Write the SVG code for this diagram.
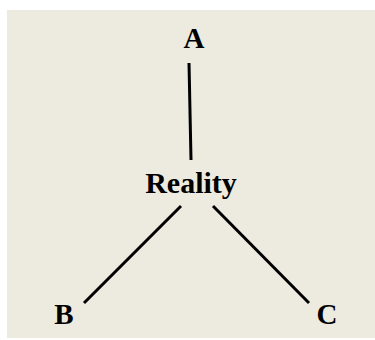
<svg xmlns="http://www.w3.org/2000/svg" width="375" height="340" viewBox="0 0 375 340">
<style>
.lbl{font-family:"Liberation Serif","Times New Roman",serif;font-weight:bold;fill:#000;text-anchor:middle}
.edge{stroke:#000;stroke-width:3;fill:none}
</style>
<rect x="0" y="0" width="375" height="340" fill="#ffffff"/>
<rect x="7" y="10" width="368" height="328" fill="#EDEAE0"/>
<g id="connectors">
<line class="edge" x1="189" y1="63" x2="191" y2="160"/>
<line class="edge" x1="181" y1="206" x2="84" y2="303"/>
<line class="edge" x1="213" y1="206" x2="309" y2="303"/>
</g>
<g id="node-A"><text class="lbl" x="194" y="48" font-size="29">A</text></g>
<g id="node-Reality"><text class="lbl" x="191" y="193" font-size="30">Reality</text></g>
<g id="node-B"><text class="lbl" x="64" y="324" font-size="29">B</text></g>
<g id="node-C"><text class="lbl" x="327" y="324" font-size="29">C</text></g>
</svg>
